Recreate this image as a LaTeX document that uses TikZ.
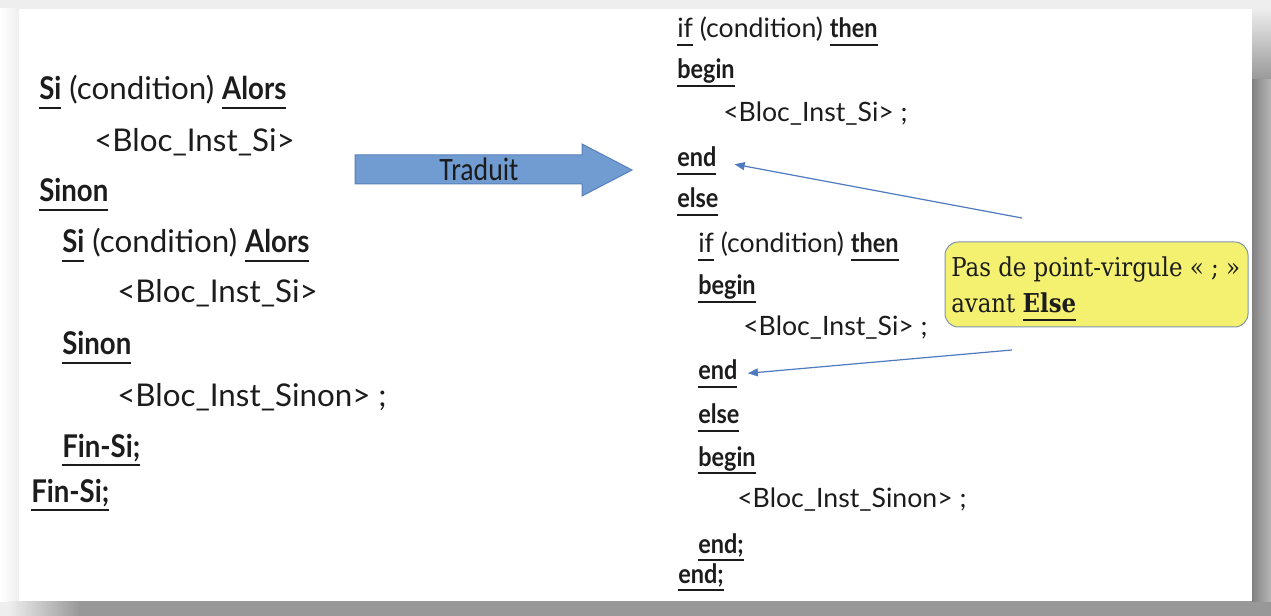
\documentclass[tikz,border=0pt]{standalone}
\usepackage{fontspec}
\usepackage{tikz}
\usetikzlibrary{arrows.meta}

\setmainfont{Lato}[BoldFeatures={FakeStretch=0.88}]
\newfontfamily\tradfont[FakeStretch=0.85]{Carlito}
\newfontfamily\notefont[FakeStretch=0.88]{DejaVu Serif}

\definecolor{shadowlight}{RGB}{238,238,238}
\definecolor{shadowdark}{RGB}{152,152,152}
\definecolor{arrowfill}{RGB}{112,156,209}
\definecolor{arrowdraw}{RGB}{88,128,188}
\definecolor{noteyellow}{RGB}{244,241,112}
\definecolor{noteborder}{RGB}{128,148,172}
\definecolor{pointer}{RGB}{78,122,192}
\definecolor{codeink}{RGB}{28,28,28}

\newcommand{\algosize}{\fontsize{23.5}{28}\selectfont}
\newcommand{\pascalsize}{\fontsize{20}{24}\selectfont}
% thick underline below a word
\newcommand{\undl}[1]{\setbox0=\hbox{#1}\rlap{\rule[-0.3em]{\wd0}{0.08em}}\box0\relax}
\newcommand{\kw}[1]{\undl{\bfseries #1}}

\begin{document}
\begin{tikzpicture}[x=0.75pt,y=0.75pt,yscale=-1,xscale=1]
\useasboundingbox (0,0) rectangle (1271,616);

%Shadow of the page
\fill [shadowlight] (0,0) rectangle (1271,616);
\shade [left color=white, right color=shadowlight] (0,9) rectangle (19,601);
\shade [left color=shadowlight, right color=shadowdark] (8,601) rectangle (80,616);
\fill [shadowdark] (80,601) rectangle (1271,616);
\shade [top color=shadowlight, bottom color=shadowdark] (1252,8) rectangle (1271,80);
\shade [left color=shadowdark!85!black, right color=shadowdark!70!white] (1252,80) rectangle (1271,601);
%Page
\fill [white] (19,9) rectangle (1252,601);

%Shape: Right Arrow [id:dp3318205741263907] 
\draw [color=arrowdraw, fill=arrowfill, line width=0.75] (355,155) -- (582,155) -- (582,144) -- (632,170) -- (582,196) -- (582,184) -- (355,184) -- cycle ;

% Text Node
\draw (479,181) node (trad) [anchor=base][inner sep=0.75pt] [font=\tradfont\fontsize{24.5}{28}\selectfont, color=codeink] {Traduit};

% Text Node
\draw (38,100) node (siA) [anchor=base west][inner sep=0.75pt] [font=\algosize, color=codeink] {\kw{Si} (condition) \kw{Alors}};
% Text Node
\draw (93,152) node (blocA) [anchor=base west][inner sep=0.75pt] [font=\algosize, color=codeink] {<Bloc\_Inst\_Si>};
% Text Node
\draw (38,202) node (sinonA) [anchor=base west][inner sep=0.75pt] [font=\algosize, color=codeink] {\kw{Sinon}};
% Text Node
\draw (61,253) node (siB) [anchor=base west][inner sep=0.75pt] [font=\algosize, color=codeink] {\kw{Si} (condition) \kw{Alors}};
% Text Node
\draw (116,303) node (blocB) [anchor=base west][inner sep=0.75pt] [font=\algosize, color=codeink] {<Bloc\_Inst\_Si>};
% Text Node
\draw (61,355) node (sinonB) [anchor=base west][inner sep=0.75pt] [font=\algosize, color=codeink] {\kw{Sinon}};
% Text Node
\draw (116,407) node (blocC) [anchor=base west][inner sep=0.75pt] [font=\algosize, color=codeink] {<Bloc\_Inst\_Sinon> ;};
% Text Node
\draw (61,457) node (finB) [anchor=base west][inner sep=0.75pt] [font=\algosize, color=codeink] {\kw{Fin-Si;}};
% Text Node
\draw (30,502) node (finA) [anchor=base west][inner sep=0.75pt] [font=\algosize, color=codeink] {\kw{Fin-Si;}};

% Text Node
\draw (676,38) node (ifA) [anchor=base west][inner sep=0.75pt] [font=\pascalsize, color=codeink] {\undl{if} (condition) \kw{then}};
% Text Node
\draw (676,79) node (beginA) [anchor=base west][inner sep=0.75pt] [font=\pascalsize, color=codeink] {\kw{begin}};
% Text Node
\draw (722,122) node (instA) [anchor=base west][inner sep=0.75pt] [font=\pascalsize, color=codeink] {<Bloc\_Inst\_Si> ;};
% Text Node
\draw (676,167) node (endA) [anchor=base west][inner sep=0.75pt] [font=\pascalsize, color=codeink] {\kw{end}};
% Text Node
\draw (676,208) node (elseA) [anchor=base west][inner sep=0.75pt] [font=\pascalsize, color=codeink] {\kw{else}};
% Text Node
\draw (697,253) node (ifB) [anchor=base west][inner sep=0.75pt] [font=\pascalsize, color=codeink] {\undl{if} (condition) \kw{then}};
% Text Node
\draw (697,295) node (beginB) [anchor=base west][inner sep=0.75pt] [font=\pascalsize, color=codeink] {\kw{begin}};
% Text Node
\draw (742,336) node (instB) [anchor=base west][inner sep=0.75pt] [font=\pascalsize, color=codeink] {<Bloc\_Inst\_Si> ;};
% Text Node
\draw (697,380) node (endB) [anchor=base west][inner sep=0.75pt] [font=\pascalsize, color=codeink] {\kw{end}};
% Text Node
\draw (697,424) node (elseB) [anchor=base west][inner sep=0.75pt] [font=\pascalsize, color=codeink] {\kw{else}};
% Text Node
\draw (697,466) node (beginC) [anchor=base west][inner sep=0.75pt] [font=\pascalsize, color=codeink] {\kw{begin}};
% Text Node
\draw (736,508) node (instC) [anchor=base west][inner sep=0.75pt] [font=\pascalsize, color=codeink] {<Bloc\_Inst\_Sinon> ;};
% Text Node
\draw (697,553) node (endC) [anchor=base west][inner sep=0.75pt] [font=\pascalsize, color=codeink] {\kw{end;}};
% Text Node
\draw (677,583) node (endD) [anchor=base west][inner sep=0.75pt] [font=\pascalsize, color=codeink] {\kw{end;}};

%Rounded Rect [id:dp5820137466109352] 
\draw [color=noteborder, fill=noteyellow, line width=0.75, rounded corners=10] (945,242) rectangle (1248,327) ;
% Text Node
\draw (950,277) node (noteA) [anchor=base west][inner sep=0.75pt] [font=\notefont\fontsize{19.5}{24}\selectfont, color=codeink] {Pas de point-virgule « ; »};
% Text Node
\draw (950,313) node (noteB) [anchor=base west][inner sep=0.75pt] [font=\notefont\fontsize{19.5}{24}\selectfont, color=codeink] {avant \kw{Else}};

%Straight Lines [id:da2716593408815462] 
\coordinate (fromA) at (1022,218);
\draw [color=pointer, line width=0.9, -{Triangle[length=7.5pt,width=6pt]}, shorten >=13pt] (fromA) -- (endA.east) ;
%Straight Lines [id:da8840275139062417] 
\coordinate (fromB) at (1012,350);
\draw [color=pointer, line width=0.9, -{Triangle[length=7.5pt,width=6pt]}, shorten >=7pt] (fromB) -- (endB.east) ;

\end{tikzpicture}
\end{document}
